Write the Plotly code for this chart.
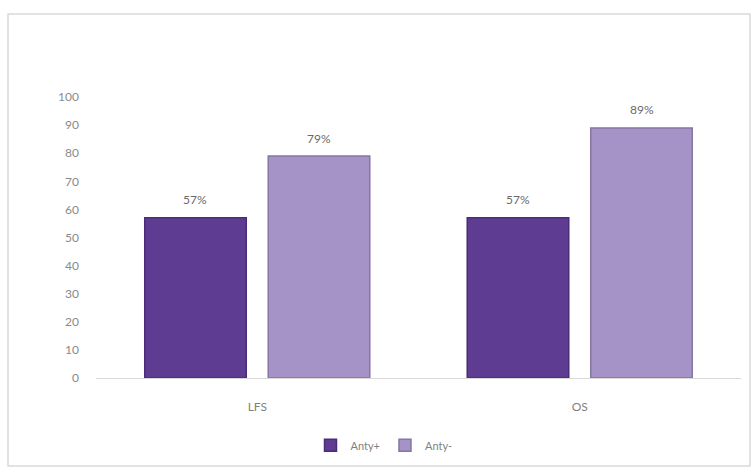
import plotly.graph_objects as go

categories = ["LFS", "OS"]
anty_plus = [57, 57]
anty_minus = [79, 89]
y_ticks = [0, 10, 20, 30, 40, 50, 60, 70, 80, 90, 100]

W, H = 754, 472
ML, MR, MT, MB = 96, 13, 97, 91
pw, ph = W - ML - MR, H - MT - MB


def px_x(x):
    return (x - ML) / pw


def px_y(y):
    return (H - MB - y) / ph


fig = go.Figure()
fig.add_bar(
    name="Anty+", x=categories, y=anty_plus,
    marker=dict(color="#5e3c92", line=dict(color="#4a2d78", width=1.5)),
)
fig.add_bar(
    name="Anty-", x=categories, y=anty_minus,
    marker=dict(color="#a592c6", line=dict(color="#8676a3", width=1.5)),
)

# value labels above each bar
for trace_idx, vals in enumerate([anty_plus, anty_minus]):
    for i, (cat, v) in enumerate(zip(categories, vals)):
        fig.add_annotation(
            x=cat, y=v, text=f"{v}%", showarrow=False,
            xshift=(-1 if trace_idx == 0 else 1) * 62, yshift=18,
            font=dict(size=12, color="#6a6a6a", family="Lato"),
        )

# outer chart frame
fig.add_shape(
    type="rect", xref="paper", yref="paper",
    x0=px_x(8), x1=px_x(750), y0=px_y(470), y1=px_y(13),
    line=dict(color="#d9d9d9", width=1.5), fillcolor="rgba(0,0,0,0)",
    layer="below",
)

fig.update_layout(
    width=W, height=H,
    margin=dict(l=ML, r=MR, t=MT, b=MB),
    paper_bgcolor="white", plot_bgcolor="white",
    barmode="group", bargap=0.234, bargroupgap=0.178,
    font=dict(family="Lato", size=12, color="#7f7f7f"),
    showlegend=True,
    legend=dict(
        orientation="h", x=px_x(384), y=px_y(449),
        xanchor="center", yanchor="middle",
        font=dict(size=11, color="#7f7f7f"),
        itemwidth=30, traceorder="normal",
    ),
    xaxis=dict(
        showline=True, linecolor="#d9d9d9", linewidth=1,
        ticks="", showgrid=False, ticklabelstandoff=18,
        tickfont=dict(size=12, color="#7f7f7f"),
    ),
    yaxis=dict(
        range=[0, 100], tickvals=y_ticks, showgrid=False,
        zeroline=False, showline=False, ticks="",
        ticklabelstandoff=16,
        tickfont=dict(size=12, color="#8a8a8a"),
    ),
)

fig.write_html("out.html")
